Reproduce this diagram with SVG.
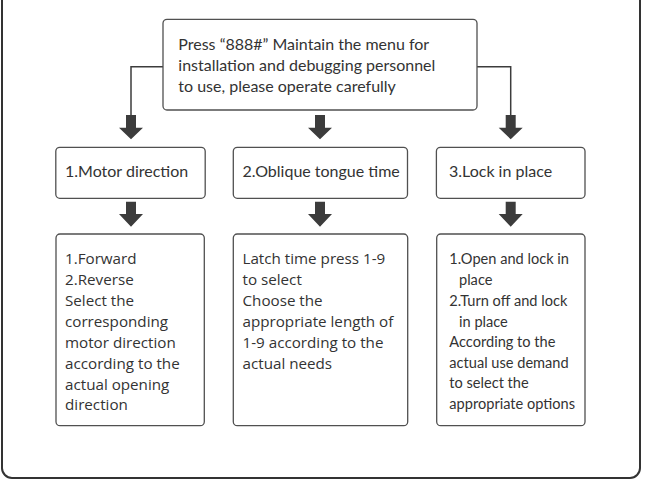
<svg xmlns="http://www.w3.org/2000/svg" width="658" height="488" viewBox="0 0 658 488">
<style>
.box{fill:#fff;stroke:#505050;stroke-width:1.3}
.t{font-family:Lato,"Liberation Sans",sans-serif;font-size:16px;fill:#333}
.t3{font-family:Lato,"Liberation Sans",sans-serif;font-size:14.6px;fill:#333}
.t2{font-family:"Open Sans","Liberation Sans",sans-serif;font-size:15.2px;fill:#333}
.arr{fill:#3c3c3c}
.ln{fill:none;stroke:#3c3c3c;stroke-width:1.5}
</style>
<rect x="2" y="-20" width="638" height="498" rx="10" fill="#fff" stroke="#333" stroke-width="2"/>
<g id="connectors">
<path class="ln" d="M163 66.7H131V116"/>
<path class="ln" d="M477 66.7H510.7V116"/>
<polygon class="arr" points="126,115 136,115 136,127.7 143,127.7 131,139.3 119,127.7 126,127.7"/>
<polygon class="arr" points="315,115 325,115 325,127.7 332,127.7 320,139.3 308,127.7 315,127.7"/>
<polygon class="arr" points="505.7,115 515.7,115 515.7,127.7 522.7,127.7 510.7,139.3 498.7,127.7 505.7,127.7"/>
<polygon class="arr" points="126,201.7 136,201.7 136,214 143,214 131,226.7 119,214 126,214"/>
<polygon class="arr" points="315,201.7 325,201.7 325,214 332,214 320,226.7 308,214 315,214"/>
<polygon class="arr" points="505.7,201.7 515.7,201.7 515.7,214 522.7,214 510.7,226.7 498.7,214 505.7,214"/>
</g>
<g id="top">
<rect class="box" x="163" y="19.3" width="314" height="90.7" rx="4"/>
<text class="t" x="178.3" y="50">Press “888#” Maintain the menu for</text>
<text class="t" x="178.3" y="71">installation and debugging personnel</text>
<text class="t" x="178.3" y="91.7">to use, please operate carefully</text>
</g>
<g id="motor">
<rect class="box" x="55.8" y="147.3" width="149.4" height="51" rx="4"/>
<text class="t" x="65" y="177.3">1.Motor direction</text>
</g>
<g id="oblique">
<rect class="box" x="233.3" y="147.3" width="174.2" height="51" rx="4"/>
<text class="t" x="242.5" y="177.3">2.Oblique tongue time</text>
</g>
<g id="lock">
<rect class="box" x="436.4" y="147.3" width="148.6" height="51" rx="4"/>
<text class="t" x="449" y="177.3">3.Lock in place</text>
</g>
<g id="motor-detail">
<rect class="box" x="56" y="234" width="148.3" height="191.7" rx="4"/>
<text class="t2" x="65" y="264">1.Forward</text>
<text class="t2" x="65" y="285">2.Reverse</text>
<text class="t2" x="65" y="306">Select the</text>
<text class="t2" x="65" y="327">corresponding</text>
<text class="t2" x="65" y="348">motor direction</text>
<text class="t2" x="65" y="369">according to the</text>
<text class="t2" x="65" y="390">actual opening</text>
<text class="t2" x="65" y="410">direction</text>
</g>
<g id="oblique-detail">
<rect class="box" x="233.3" y="234" width="174.4" height="191.7" rx="4"/>
<text class="t2" x="242.5" y="264">Latch time press 1-9</text>
<text class="t2" x="242.5" y="285">to select</text>
<text class="t2" x="242.5" y="306">Choose the</text>
<text class="t2" x="242.5" y="327">appropriate length of</text>
<text class="t2" x="242.5" y="348">1-9 according to the</text>
<text class="t2" x="242.5" y="369">actual needs</text>
</g>
<g id="lock-detail">
<rect class="box" x="436.7" y="234" width="148.3" height="191.7" rx="4"/>
<text class="t3" x="449.3" y="264">1.Open and lock in</text>
<text class="t3" x="459" y="285">place</text>
<text class="t3" x="449.3" y="306">2.Turn off and lock</text>
<text class="t3" x="459" y="327">in place</text>
<text class="t3" x="449.3" y="347">According to the</text>
<text class="t3" x="449.3" y="368">actual use demand</text>
<text class="t3" x="449.3" y="388">to select the</text>
<text class="t3" x="449.3" y="409">appropriate options</text>
</g>
</svg>
